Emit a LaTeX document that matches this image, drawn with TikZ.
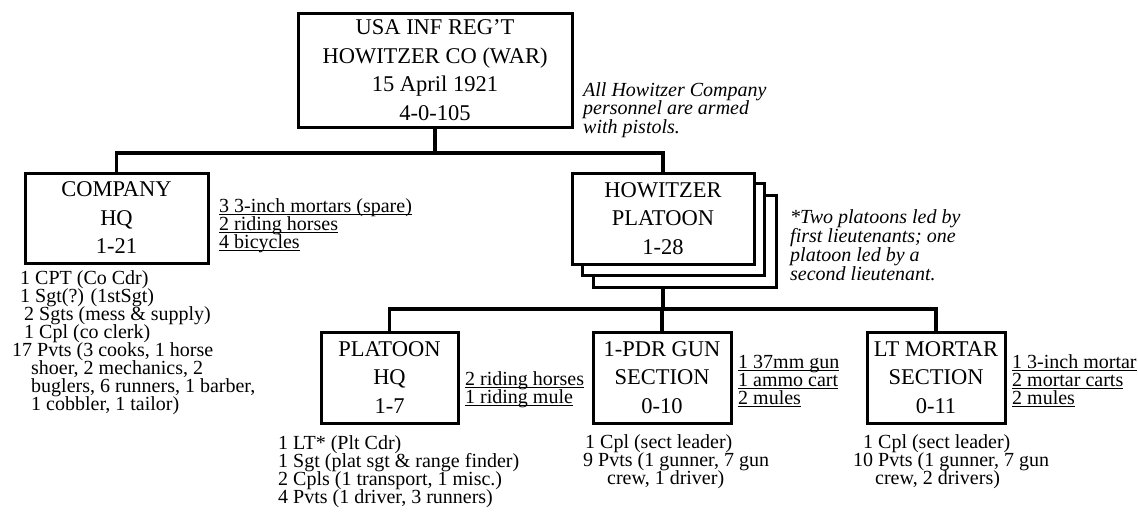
\documentclass[tikz,border=0pt]{standalone}
\usepackage{fontspec}
\setmainfont{Liberation Serif}
\newsavebox{\myulbox}
\newcommand{\myul}[1]{\sbox{\myulbox}{#1}\rlap{\rule[-3.2pt]{\wd\myulbox}{1.2pt}}\usebox{\myulbox}}
\newcommand{\mystrut}{\rule{0pt}{15pt}}
\newcommand{\tightlines}{\lineskiplimit=-100pt\lineskip=0pt}
\begin{document}
\begin{tikzpicture}[x=1pt,y=-1pt,
  box/.style={draw, fill=white, line width=3pt, inner sep=0pt, align=center,
    font=\fontsize{22.5}{28.5}\selectfont},
  note/.style={inner sep=0pt, align=left, anchor=north west,
    font=\fontsize{20}{18}\selectfont\tightlines},
  inote/.style={inner sep=0pt, align=left, anchor=north west},
  link/.style={line width=3.2pt}]
\useasboundingbox (0,0) rectangle (1138,512);
% boxes
\node[box, minimum width=274pt, minimum height=114pt] (top) at (435,70)
  {USA INF REG’T\\HOWITZER CO (WAR)\\15 April 1921\\4-0-105};
\node[box, minimum width=183pt, minimum height=90pt] (chq) at (116.5,218)
  {COMPANY\\HQ\\1-21};
\node[box, minimum width=183pt, minimum height=92pt] (hw3) at (684.5,241) {};
\node[box, minimum width=182pt, minimum height=92pt] (hw2) at (673.5,229.5) {};
\node[box, minimum width=182pt, minimum height=91pt] (hw) at (663,218.5)
  {HOWITZER\\PLATOON\\1-28};
\node[box, minimum width=137pt, minimum height=91pt] (phq) at (389.5,377.5)
  {PLATOON\\HQ\\1-7};
\node[box, minimum width=138pt, minimum height=91pt] (pdr) at (662,377.5)
  {1-PDR GUN\\SECTION\\0-10};
\node[box, minimum width=138pt, minimum height=91pt] (ltm) at (936,377.5)
  {LT MORTAR\\SECTION\\0-11};
% connectors
\coordinate (bar1) at (434,153);
\coordinate (bar2) at (662,309);
\draw[link] (top.south) -- (top.south |- bar1);
\draw[link] (chq.north) -- (chq.north |- bar1) -- (hw.north |- bar1) -- (hw.north);
\draw[link] (hw.south |- hw3.south) -- (hw.south |- bar2);
\draw[link] (phq.north) -- (phq.north |- bar2) -- (ltm.north |- bar2) -- (ltm.north);
\draw[link] (pdr.north) -- (pdr.north |- bar2);
% notes
\node[inote, font=\fontsize{20}{18.5}\selectfont\itshape\tightlines] (topnote) at (583,81)
  {\mystrut All Howitzer Company\\personnel are armed\\with pistols.};
\node[inote, font=\fontsize{20}{19}\selectfont\itshape\tightlines] (hwnote) at (790,208)
  {\mystrut *Two platoons led by\\first lieutenants; one\\platoon led by a\\second lieutenant.};
\node[note] (chqnote) at (219,197)
  {\mystrut\myul{3 3-inch mortars (spare)}\\\myul{2 riding horses}\\\myul{4 bicycles}};
\node[note] (chqlist) at (12,269)
  {\mystrut\hspace*{8pt}1 CPT (Co Cdr)\\
   \hspace*{8pt}1 Sgt(?) (1stSgt)\\
   \hspace*{12pt}2 Sgts (mess \& supply)\\
   \hspace*{12pt}1 Cpl (co clerk)\\
   17 Pvts (3 cooks, 1 horse\\
   \hspace*{19pt}shoer, 2 mechanics, 2\\
   \hspace*{19pt}buglers, 6 runners, 1 barber,\\
   \hspace*{19pt}1 cobbler, 1 tailor)};
\node[note] (phqnote) at (465,370)
  {\mystrut\myul{2 riding horses}\\\myul{1 riding mule}};
\node[note] (pdrnote) at (738,353)
  {\mystrut\myul{1 37mm gun}\\\myul{1 ammo cart}\\\myul{2 mules}};
\node[note] (ltmnote) at (1012,353)
  {\mystrut\myul{1 3-inch mortar}\\\myul{2 mortar carts}\\\myul{2 mules}};
\node[note] (phqlist) at (278,434)
  {\mystrut 1 LT* (Plt Cdr)\\1 Sgt (plat sgt \& range finder)\\2 Cpls (1 transport, 1 misc.)\\4 Pvts (1 driver, 3 runners)};
\node[note] (pdrlist) at (583,433)
  {\mystrut\hspace*{2pt}1 Cpl (sect leader)\\9 Pvts (1 gunner, 7 gun\\\hspace*{24pt}crew, 1 driver)};
\node[note] (ltmlist) at (853,433)
  {\mystrut\hspace*{10pt}1 Cpl (sect leader)\\10 Pvts (1 gunner, 7 gun\\\hspace*{22pt}crew, 2 drivers)};
\end{tikzpicture}
\end{document}
